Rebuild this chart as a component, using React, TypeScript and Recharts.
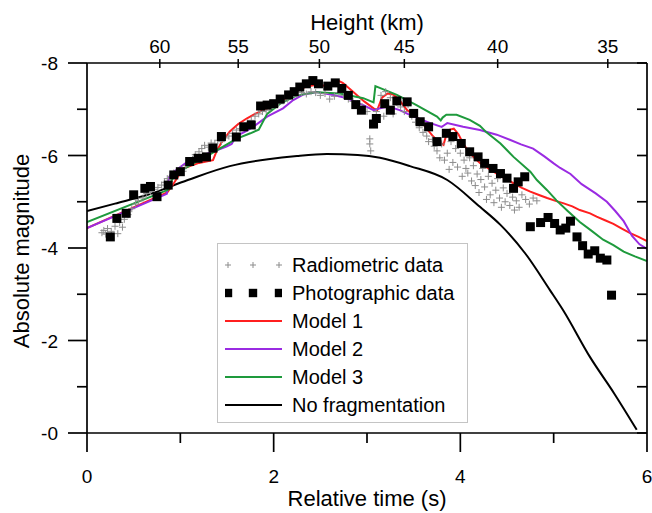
import React from 'react'
import {
  ComposedChart,
  Line,
  Scatter,
  XAxis,
  YAxis,
  Legend,
  Label
} from 'recharts'

type Pt = [number, number]

// axis ticks
const timeTicks = [0, 1, 2, 3, 4, 5, 6]
const magTicks = [-8, -7, -6, -5, -4, -3, -2, -1, 0]
const heightLabels = [60, 55, 50, 45, 40, 35]
const heightTickTimes = [0.78, 1.62, 2.49, 3.4, 4.4, 5.58]

// [time (s), absolute magnitude]
const radiometric: Pt[] = [
  [0.16, -4.33], [0.18, -4.38], [0.2, -4.3], [0.22, -4.42], [0.26, -4.36], [0.3, -4.47],
  [0.33, -4.31], [0.35, -4.55], [0.38, -4.45], [0.4, -4.62], [0.44, -4.72], [0.48, -4.85],
  [0.52, -4.95], [0.55, -5.02], [0.6, -5.08], [0.64, -5.18], [0.68, -5.22], [0.72, -5.27],
  [0.76, -5.31], [0.8, -5.36], [0.83, -5.42], [0.86, -5.5], [0.88, -5.38], [0.9, -5.55],
  [0.93, -5.62], [0.96, -5.58], [1.0, -5.7], [1.03, -5.66], [1.06, -5.78], [1.1, -5.85],
  [1.13, -5.92], [1.16, -6.02], [1.2, -6.08], [1.23, -6.15], [1.26, -6.22], [1.3, -6.18],
  [1.33, -6.27], [1.37, -6.25], [1.4, -6.33], [1.44, -6.3], [1.48, -6.38], [1.52, -6.42],
  [1.56, -6.48], [1.6, -6.55], [1.64, -6.58], [1.68, -6.63], [1.72, -6.7], [1.76, -6.76],
  [1.8, -6.85], [1.84, -6.9], [1.88, -6.95], [1.92, -6.98], [1.96, -7.03], [2.0, -7.08],
  [2.05, -7.12], [2.1, -7.18], [2.15, -7.22], [2.2, -7.28], [2.25, -7.32], [2.3, -7.36],
  [2.35, -7.33], [2.4, -7.38], [2.45, -7.36], [2.5, -7.3], [2.55, -7.34], [2.6, -7.22],
  [2.65, -7.28], [2.7, -7.36], [2.75, -7.3], [2.8, -7.22], [2.85, -7.17], [2.9, -7.12],
  [2.95, -7.05], [3.0, -6.95], [3.03, -6.36], [3.03, -6.25], [3.04, -6.1], [3.06, -6.75],
  [3.1, -6.95], [3.15, -7.3], [3.18, -6.85], [3.2, -7.38], [3.25, -7.25], [3.28, -6.9],
  [3.32, -7.15], [3.36, -7.05], [3.4, -6.95], [3.44, -7.1], [3.48, -6.85], [3.52, -6.72],
  [3.56, -6.6], [3.6, -6.5], [3.64, -6.42], [3.66, -6.3], [3.7, -6.35], [3.72, -6.2],
  [3.75, -6.1], [3.78, -5.95], [3.8, -6.25], [3.83, -5.9], [3.86, -6.05], [3.88, -5.7],
  [3.9, -6.3], [3.92, -5.85], [3.95, -6.15], [3.97, -5.75], [4.0, -6.05], [4.02, -5.55],
  [4.04, -5.9], [4.06, -5.72], [4.08, -5.62], [4.1, -5.95], [4.12, -5.45], [4.14, -5.78],
  [4.16, -5.35], [4.18, -5.6], [4.2, -5.2], [4.22, -5.48], [4.24, -5.72], [4.26, -5.32],
  [4.28, -5.05], [4.3, -5.55], [4.32, -5.15], [4.34, -5.4], [4.36, -4.98], [4.38, -5.25],
  [4.4, -5.5], [4.42, -5.08], [4.44, -4.88], [4.46, -5.3], [4.48, -5.0], [4.5, -5.18],
  [4.53, -4.92], [4.56, -5.1], [4.58, -4.82], [4.6, -5.02], [4.63, -4.88], [4.66, -5.15],
  [4.7, -5.05], [4.74, -4.95], [4.78, -5.08], [4.82, -5.02]
]

const photographic: Pt[] = [
  [0.25, -4.24], [0.32, -4.64], [0.42, -4.75], [0.5, -5.15], [0.62, -5.29], [0.68, -5.33],
  [0.75, -5.11], [0.87, -5.36], [0.93, -5.58], [1.0, -5.65], [1.1, -5.87], [1.19, -5.94],
  [1.28, -5.97], [1.35, -6.16], [1.44, -6.41], [1.6, -6.4], [1.68, -6.62], [1.76, -6.66],
  [1.86, -7.07], [1.93, -7.09], [2.0, -7.12], [2.07, -7.22], [2.16, -7.31], [2.22, -7.38],
  [2.28, -7.48], [2.35, -7.55], [2.42, -7.62], [2.48, -7.55], [2.58, -7.5], [2.66, -7.57],
  [2.73, -7.45], [2.8, -7.3], [2.88, -7.1], [2.94, -6.98], [3.07, -6.68], [3.1, -6.8],
  [3.19, -7.12], [3.25, -6.98], [3.32, -7.18], [3.43, -7.16], [3.5, -6.91], [3.57, -6.73],
  [3.66, -6.62], [3.75, -6.3], [3.85, -6.48], [3.92, -6.41], [4.01, -6.26], [4.1, -6.08],
  [4.19, -5.97], [4.26, -5.83], [4.35, -5.72], [4.43, -5.61], [4.5, -5.51], [4.57, -5.29],
  [4.62, -5.43], [4.69, -5.54], [4.75, -4.46], [4.86, -4.55], [4.94, -4.66], [5.01, -4.53],
  [5.07, -4.39], [5.13, -4.43], [5.18, -4.58], [5.25, -4.24], [5.31, -4.05], [5.37, -3.87],
  [5.44, -3.94], [5.5, -3.78], [5.57, -3.74], [5.62, -2.98]
]

const model1: Pt[] = [
  [0, -4.43], [0.86, -5.2], [0.93, -5.4], [1.03, -5.72], [1.2, -5.84], [1.35, -5.9],
  [1.39, -6.1], [1.44, -6.28], [1.53, -6.52], [1.62, -6.68], [1.71, -6.8], [1.8, -6.9],
  [1.89, -6.98], [2.0, -7.08], [2.07, -7.13], [2.14, -7.24], [2.21, -7.34], [2.28, -7.43],
  [2.35, -7.49], [2.43, -7.52], [2.52, -7.52], [2.59, -7.48], [2.64, -7.56], [2.69, -7.62],
  [2.74, -7.57], [2.82, -7.43], [2.89, -7.31], [2.97, -7.17], [3.07, -7.02], [3.11, -6.98],
  [3.16, -7.25], [3.22, -7.34], [3.28, -7.32], [3.34, -7.22], [3.43, -6.98], [3.5, -6.88],
  [3.57, -6.77], [3.64, -6.58], [3.71, -6.41], [3.77, -6.3], [3.82, -6.23], [3.85, -6.45],
  [3.89, -6.56], [3.93, -6.58], [3.98, -6.46], [4.03, -6.26], [4.09, -6.08], [4.15, -5.95],
  [4.21, -5.84], [4.3, -5.72], [4.39, -5.61], [4.48, -5.5], [4.57, -5.4], [4.66, -5.3],
  [4.75, -5.22], [4.85, -5.14], [4.93, -5.08], [5.02, -5.02], [5.1, -4.97], [5.2, -4.9],
  [5.28, -4.82], [5.39, -4.75], [5.46, -4.68], [5.55, -4.6], [5.64, -4.52], [5.73, -4.42],
  [5.82, -4.32], [5.91, -4.24], [6.0, -4.15]
]

const model2: Pt[] = [
  [0, -4.43], [0.855, -5.17], [0.875, -5.5], [0.9, -5.6], [1.0, -5.75], [1.1, -5.9],
  [1.2, -5.98], [1.35, -6.08], [1.5, -6.2], [1.55, -6.25], [1.6, -6.42], [1.7, -6.52],
  [1.78, -6.62], [1.93, -6.84], [2.1, -7.02], [2.21, -7.2], [2.32, -7.32], [2.46, -7.37],
  [2.55, -7.34], [2.64, -7.31], [2.78, -7.24], [2.96, -7.09], [3.07, -6.98], [3.14, -7.02],
  [3.23, -7.06], [3.35, -6.98], [3.5, -6.84], [3.68, -6.7], [3.8, -6.62], [3.83, -6.66],
  [3.86, -6.7], [3.95, -6.66], [4.03, -6.62], [4.21, -6.55], [4.39, -6.45], [4.53, -6.34],
  [4.65, -6.24], [4.78, -6.15], [4.9, -5.98], [5.0, -5.83], [5.07, -5.73], [5.18, -5.6],
  [5.3, -5.38], [5.45, -5.18], [5.57, -5.0], [5.66, -4.8], [5.75, -4.58], [5.84, -4.26],
  [5.92, -4.08], [6.0, -3.98]
]

const model3: Pt[] = [
  [0, -4.56], [0.82, -5.22], [0.87, -5.26], [0.93, -5.58], [1.14, -5.83], [1.3, -6.0],
  [1.43, -6.16], [1.6, -6.36], [1.75, -6.48], [1.84, -6.56], [1.93, -6.9], [2.07, -7.12],
  [2.25, -7.3], [2.46, -7.37], [2.71, -7.34], [2.96, -7.24], [3.07, -7.15], [3.09, -7.5],
  [3.32, -7.31], [3.53, -7.09], [3.75, -6.84], [3.79, -6.76], [3.81, -6.82], [3.85, -6.88],
  [3.96, -6.88], [4.1, -6.77], [4.21, -6.64], [4.28, -6.5], [4.43, -6.26], [4.57, -5.97],
  [4.75, -5.65], [4.82, -5.47], [4.93, -5.25], [5.03, -5.03], [5.15, -4.8], [5.28, -4.56],
  [5.4, -4.38], [5.53, -4.18], [5.64, -4.06], [5.75, -3.92], [5.87, -3.82], [6.0, -3.72]
]

const noFragmentation: Pt[] = [
  [0, -4.8], [0.3, -4.96], [0.65, -5.15], [1.08, -5.47], [1.53, -5.77], [1.94, -5.92],
  [2.25, -5.99], [2.57, -6.03], [2.9, -6.01], [3.14, -5.95], [3.46, -5.77], [3.86, -5.47],
  [4.21, -4.89], [4.43, -4.5], [4.7, -3.87], [4.96, -3.09], [5.1, -2.66], [5.39, -1.64],
  [5.65, -0.85], [5.89, -0.07]
]

const RED = '#ff1f1f'
const PURPLE = '#9a2be2'
const GREEN = '#1e9a3c'
const CROSS = '#8c8c8c'
const FONT = '"Liberation Sans", Arial, Helvetica, sans-serif'

const legendItems = [
  { name: 'Radiometric data', kind: 'cross', color: CROSS },
  { name: 'Photographic data', kind: 'square', color: '#000' },
  { name: 'Model 1', kind: 'line', color: RED },
  { name: 'Model 2', kind: 'line', color: PURPLE },
  { name: 'Model 3', kind: 'line', color: GREEN },
  { name: 'No fragmentation', kind: 'line', color: '#000' }
]

const toRows = (pts: Pt[]) => pts.map(([t, m]) => ({ t, m }))

const axisLine = { stroke: '#000', strokeWidth: 1.7 }

const BottomTick = ({ x, y, payload }: any) => {
  const major = payload.value % 2 === 0
  return (
    <g>
      <line x1={x} x2={x} y1={y} y2={y + (major ? 19 : 10)} stroke="#000" strokeWidth={1.7} />
      {major && (
        <text x={x} y={y + 50} textAnchor="middle" fontSize={19} fontFamily={FONT} fill="#000">
          {payload.value}
        </text>
      )}
    </g>
  )
}

const TopTick = ({ x, y, payload }: any) => {
  const i = heightTickTimes.indexOf(payload.value)
  return (
    <g>
      <line x1={x} x2={x} y1={y - 4} y2={y + 5} stroke="#000" strokeWidth={1.5} />
      <text x={x} y={y - 10} textAnchor="middle" fontSize={19} fontFamily={FONT} fill="#000">
        {heightLabels[i]}
      </text>
    </g>
  )
}

const LeftTick = ({ x, y, payload }: any) => {
  const major = payload.value % 2 === 0
  return (
    <g>
      <line x1={x - (major ? 19 : 10)} x2={x} y1={y} y2={y} stroke="#000" strokeWidth={1.7} />
      {major && (
        <text x={x - 29} y={y + 7} textAnchor="end" fontSize={19} fontFamily={FONT} fill="#000">
          {payload.value === 0 ? '-0' : payload.value}
        </text>
      )}
    </g>
  )
}

const RightTick = ({ x, y }: any) => (
  <line x1={x - 10} x2={x} y1={y} y2={y} stroke="#000" strokeWidth={1.7} />
)

const CrossShape = ({ cx, cy }: any) => {
  if (cx == null || cy == null) return null
  return (
    <path
      d={`M${cx - 3.5},${cy}H${cx + 3.5}M${cx},${cy - 3.5}V${cy + 3.5}`}
      stroke={CROSS}
      strokeWidth={1}
      fill="none"
    />
  )
}

const SquareShape = ({ cx, cy }: any) => {
  if (cx == null || cy == null) return null
  return <rect x={cx - 4.5} y={cy - 4.5} width={9} height={9} fill="#000" />
}

const LegendIcon = ({ kind, color }: { kind: string; color: string }) => (
  <svg width={57} height={20} style={{ flex: 'none' }}>
    {kind === 'line' && <line x1={0} x2={57} y1={10} y2={10} stroke={color} strokeWidth={2} />}
    {kind === 'cross' &&
      [3, 28, 54].map((cx) => (
        <path key={cx} d={`M${cx - 3},10H${cx + 3}M${cx},7V13`} stroke={color} strokeWidth={1} />
      ))}
    {kind === 'square' &&
      [3, 28, 54].map((cx) => (
        <rect key={cx} x={cx - 4.2} y={5.8} width={8.4} height={8.4} fill={color} />
      ))}
  </svg>
)

const renderLegend = () => (
  <div
    style={{
      boxSizing: 'border-box',
      width: 251,
      height: 180,
      border: '1px solid #c4c4c4',
      background: '#fff',
      paddingTop: 7,
      paddingLeft: 7,
      fontFamily: FONT,
      fontSize: 20,
      color: '#000'
    }}
  >
    {legendItems.map((it) => (
      <div key={it.name} style={{ display: 'flex', alignItems: 'center', height: 28 }}>
        <LegendIcon kind={it.kind} color={it.color} />
        <span style={{ marginLeft: 10, whiteSpace: 'nowrap' }}>{it.name}</span>
      </div>
    ))}
  </div>
)

export default function App() {
  return (
    <div style={{ position: 'absolute', left: 0, top: 0, width: 652, height: 513, background: '#fff' }}>
      <ComposedChart width={652} height={513} margin={{ top: 0, right: 0, bottom: 0, left: 0 }}>
        <XAxis
          xAxisId="b"
          dataKey="t"
          type="number"
          domain={[0, 6]}
          allowDataOverflow
          ticks={timeTicks}
          interval={0}
          tickSize={0}
          tickMargin={0}
          tickLine={false}
          tick={(p: any) => <BottomTick {...p} />}
          axisLine={axisLine}
          height={80}
        >
          <Label
            content={({ viewBox }: any) => (
              <text
                x={viewBox.x + viewBox.width / 2}
                y={viewBox.y + 73}
                textAnchor="middle"
                fontSize={22}
                fontFamily={FONT}
                fill="#000"
              >
                Relative time (s)
              </text>
            )}
          />
        </XAxis>
        <XAxis
          xAxisId="top"
          orientation="top"
          dataKey="t"
          type="number"
          domain={[0, 6]}
          allowDataOverflow
          ticks={heightTickTimes}
          interval={0}
          tickSize={0}
          tickMargin={0}
          tickLine={false}
          tick={(p: any) => <TopTick {...p} />}
          axisLine={axisLine}
          height={63}
        >
          <Label
            content={({ viewBox }: any) => (
              <text
                x={viewBox.x + viewBox.width / 2}
                y={30}
                textAnchor="middle"
                fontSize={22}
                fontFamily={FONT}
                fill="#000"
              >
                Height (km)
              </text>
            )}
          />
        </XAxis>
        <YAxis
          yAxisId="l"
          type="number"
          domain={[-8, 0]}
          reversed
          allowDataOverflow
          ticks={magTicks}
          interval={0}
          tickSize={0}
          tickMargin={0}
          tickLine={false}
          tick={(p: any) => <LeftTick {...p} />}
          axisLine={axisLine}
          width={87}
        >
          <Label
            content={({ viewBox }: any) => {
              const cx = viewBox.x + 29
              const cy = viewBox.y + viewBox.height / 2 + 3
              return (
                <text
                  x={cx}
                  y={cy}
                  transform={`rotate(-90, ${cx}, ${cy})`}
                  textAnchor="middle"
                  fontSize={22}
                  fontFamily={FONT}
                  fill="#000"
                >
                  Absolute magnitude
                </text>
              )
            }}
          />
        </YAxis>
        <YAxis
          yAxisId="r"
          orientation="right"
          type="number"
          domain={[-8, 0]}
          reversed
          allowDataOverflow
          ticks={magTicks}
          interval={0}
          tickSize={0}
          tickMargin={0}
          tickLine={false}
          tick={(p: any) => <RightTick {...p} />}
          axisLine={axisLine}
          width={5}
        />

        <Legend
          layout="vertical"
          align="center"
          verticalAlign="middle"
          content={renderLegend}
          wrapperStyle={{ left: 217, top: 243, width: 251, height: 180 }}
        />

        <Scatter
          xAxisId="b"
          yAxisId="l"
          data={toRows(radiometric)}
          dataKey="m"
          shape={(p: any) => <CrossShape {...p} />}
          isAnimationActive={false}
        />
        <Scatter
          xAxisId="b"
          yAxisId="l"
          data={toRows(photographic)}
          dataKey="m"
          shape={(p: any) => <SquareShape {...p} />}
          isAnimationActive={false}
        />
        <Line
          xAxisId="b"
          yAxisId="l"
          data={toRows(noFragmentation)}
          dataKey="m"
          type="monotone"
          stroke="#000"
          strokeWidth={2}
          dot={false}
          activeDot={false}
          isAnimationActive={false}
        />
        <Line
          xAxisId="b"
          yAxisId="l"
          data={toRows(model1)}
          dataKey="m"
          type="linear"
          stroke={RED}
          strokeWidth={2}
          dot={false}
          activeDot={false}
          isAnimationActive={false}
        />
        <Line
          xAxisId="b"
          yAxisId="l"
          data={toRows(model2)}
          dataKey="m"
          type="linear"
          stroke={PURPLE}
          strokeWidth={2}
          dot={false}
          activeDot={false}
          isAnimationActive={false}
        />
        <Line
          xAxisId="b"
          yAxisId="l"
          data={toRows(model3)}
          dataKey="m"
          type="linear"
          stroke={GREEN}
          strokeWidth={2}
          dot={false}
          activeDot={false}
          isAnimationActive={false}
        />
      </ComposedChart>
    </div>
  )
}
